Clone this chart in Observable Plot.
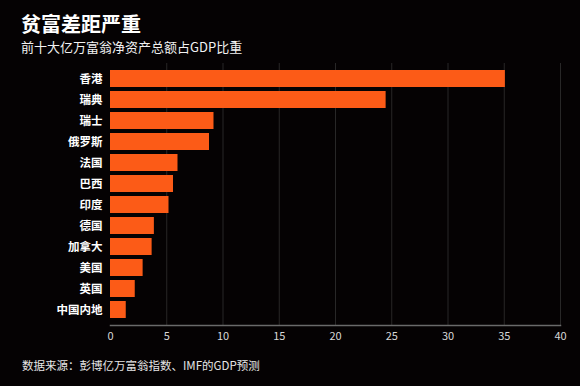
<!DOCTYPE html>
<html>
<head>
<meta charset="utf-8">
<script src="https://cdn.jsdelivr.net/npm/d3@7"></script>
<script src="https://cdn.jsdelivr.net/npm/@observablehq/plot@0.6"></script>
<style>
  html, body { margin: 0; padding: 0; background: #050203; }
  body { width: 580px; height: 386px; position: relative; overflow: hidden;
         font-family: "Noto Sans CJK SC", "Noto Sans", sans-serif; color: #fff; }
  #title { position: absolute; left: 21px; top: 9px; font-size: 20px; font-weight: bold; letter-spacing: 0px; }
  #subtitle { position: absolute; left: 21px; top: 37px; font-size: 13px; color: #f2f2f2; }
  #chart { position: absolute; left: 0; top: 58px; }
  #caption { position: absolute; left: 22px; top: 357px; font-size: 11.5px; color: #e6e6e6; }
</style>
</head>
<body>
<div id="title">贫富差距严重</div>
<div id="subtitle">前十大亿万富翁净资产总额占GDP比重</div>
<div id="chart"></div>
<div id="caption">数据来源：彭博亿万富翁指数、IMF的GDP预测</div>
<script>
const regions = ["香港", "瑞典", "瑞士", "俄罗斯", "法国", "巴西", "印度", "德国", "加拿大", "美国", "英国", "中国内地"];
const shares = [35.1, 24.5, 9.2, 8.8, 6.0, 5.6, 5.2, 3.9, 3.7, 2.9, 2.2, 1.4];
const xTicks = [0, 5, 10, 15, 20, 25, 30, 35, 40];

const data = regions.map((r, i) => ({region: r, value: shares[i]}));

const plot = Plot.plot({
  width: 580,
  height: 287,
  marginTop: 5,
  marginBottom: 20,
  marginLeft: 110,
  marginRight: 20,
  style: {background: "transparent", color: "#fff", fontFamily: "'Noto Sans CJK SC', sans-serif"},
  x: {domain: [0, 40]},
  y: {domain: regions, paddingInner: 0.2, paddingOuter: 0.1},
  marks: [
    Plot.gridX(xTicks.slice(1), {stroke: "#555", strokeOpacity: 0.45, strokeWidth: 1}),
    Plot.barX(data, {x: "value", y: "region", fill: "#fc5b17"}),
    Plot.frame({anchor: "bottom", stroke: "#6a6a6a", strokeWidth: 1.5}),
    Plot.axisX({ticks: xTicks, tickSize: 0, tickPadding: 7, fontSize: 11, fill: "#d8d8d8", label: null}),
    Plot.axisY({tickSize: 0, tickPadding: 8, fontSize: 11.5, fontWeight: "bold", fill: "#fff", label: null})
  ]
});
document.getElementById("chart").appendChild(plot);
</script>
</body>
</html>
